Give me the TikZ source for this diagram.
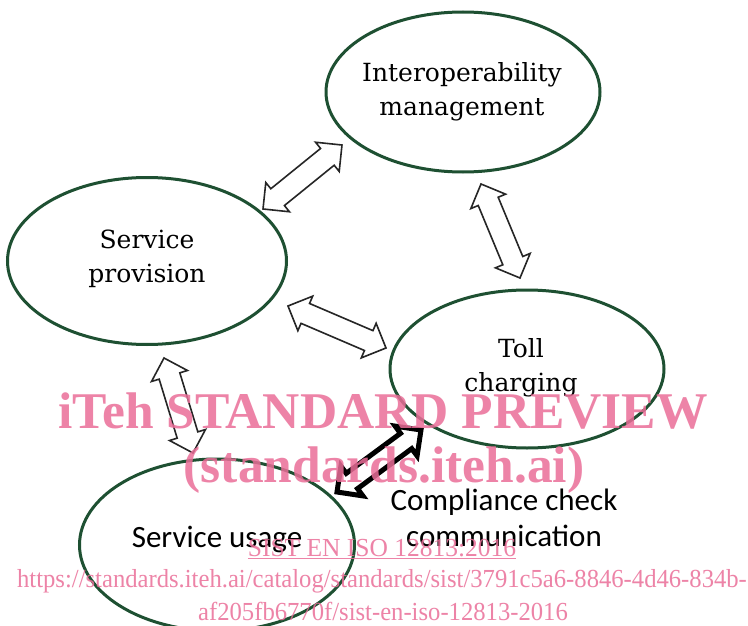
\documentclass[tikz,border=0pt]{standalone}
\usepackage{fontspec}
\setmainfont{DejaVu Serif}
\newfontfamily\labsans{Carlito}
\newfontfamily\wmserif{Liberation Serif}
\usetikzlibrary{shapes.arrows,shapes.geometric,calc}

\definecolor{ringgreen}{RGB}{30,80,50}
\definecolor{wmpink}{RGB}{234,110,152}

\tikzset{
  activity/.style={ellipse, draw=ringgreen, line width=3pt, inner sep=0pt},
  label/.style={align=center, font=\fontsize{25}{34}\selectfont},
  sanslabel/.style={align=center, font=\labsans\fontsize{31}{36}\selectfont},
  flowarrow/.style={double arrow, draw=black!85, line width=1.6pt, fill=white,
    inner xsep=0pt, inner ysep=10pt, double arrow head extend=8pt},
  boldarrow/.style={double arrow, draw=black, line width=5pt, fill=white,
    inner xsep=0pt, inner ysep=7pt, double arrow head extend=9pt},
  watermark/.style={text=wmpink, text opacity=0.85, inner sep=0pt}
}

% double-headed block arrow between two named points
\newcommand\dblarrow[3]{%
  \path let \p1=($(#2)-(#1)$), \n1={atan2(\y1,\x1)}, \n2={veclen(\x1,\y1)} in
    node[#3, rotate=\n1, minimum height=\n2] at ($(#1)!.5!(#2)$) {};}

\begin{document}
\begin{tikzpicture}[x=1pt,y=-1pt]
  \useasboundingbox (0,0) rectangle (748,626);
  \fill[white] (0,0) rectangle (748,626);

  % activity ellipses
  \node[activity, minimum width=274pt, minimum height=160pt] (ip) at (463,92) {};
  \node[activity, minimum width=279pt, minimum height=167pt] (sp) at (147,261) {};
  \node[activity, minimum width=274pt, minimum height=158pt] (tc) at (527,369) {};
  \node[activity, minimum width=275pt, minimum height=172pt] (su) at (217,545) {};

  \node[label] (iptext) at (462,92) {Interoperability\\management};
  \node[label] (sptext) at (147,259) {Service\\provision};
  \node[label] (tctext) at (521,368) {Toll\\charging};
  \node[sanslabel] (sutext) at (217,539) {Service usage};
  \node[sanslabel] (cctext) at (504,518) {Compliance check\\communication};

  % arrow end points
  \coordinate (a1s) at (263,209);
  \coordinate (a1e) at (342,145);
  \coordinate (a2s) at (481,184);
  \coordinate (a2e) at (520,278);
  \coordinate (a3s) at (288,306);
  \coordinate (a3e) at (386,348);
  \coordinate (a4s) at (164,358);
  \coordinate (a4e) at (193,453);
  \coordinate (a5s) at (337,492);
  \coordinate (a5e) at (421,430);

  \dblarrow{a1s}{a1e}{flowarrow}
  \dblarrow{a2s}{a2e}{flowarrow}
  \dblarrow{a3s}{a3e}{flowarrow}
  \dblarrow{a4s}{a4e}{flowarrow}
  \dblarrow{a5s}{a5e}{boldarrow}

  % watermark
  \node[watermark, font=\wmserif\bfseries\fontsize{51.5}{56}\selectfont] (wm1) at (383,411) {iTeh STANDARD PREVIEW};
  \node[watermark, font=\wmserif\bfseries\fontsize{51.5}{56}\selectfont] (wm2) at (384,470) {(standards.iteh.ai)};
  \node[watermark, font=\wmserif\fontsize{26}{28}\selectfont, xscale=0.98] (wm3) at (382,549) {\underline{SIST EN ISO 12813:2016}};
  \node[watermark, font=\wmserif\fontsize{26}{28}\selectfont, xscale=0.948] (wm4) at (382,581) {https://standards.iteh.ai/catalog/standards/sist/3791c5a6-8846-4d46-834b-};
  \node[watermark, font=\wmserif\fontsize{26}{28}\selectfont, xscale=0.948] (wm5) at (383,611) {af205fb6770f/sist-en-iso-12813-2016};
\end{tikzpicture}
\end{document}
